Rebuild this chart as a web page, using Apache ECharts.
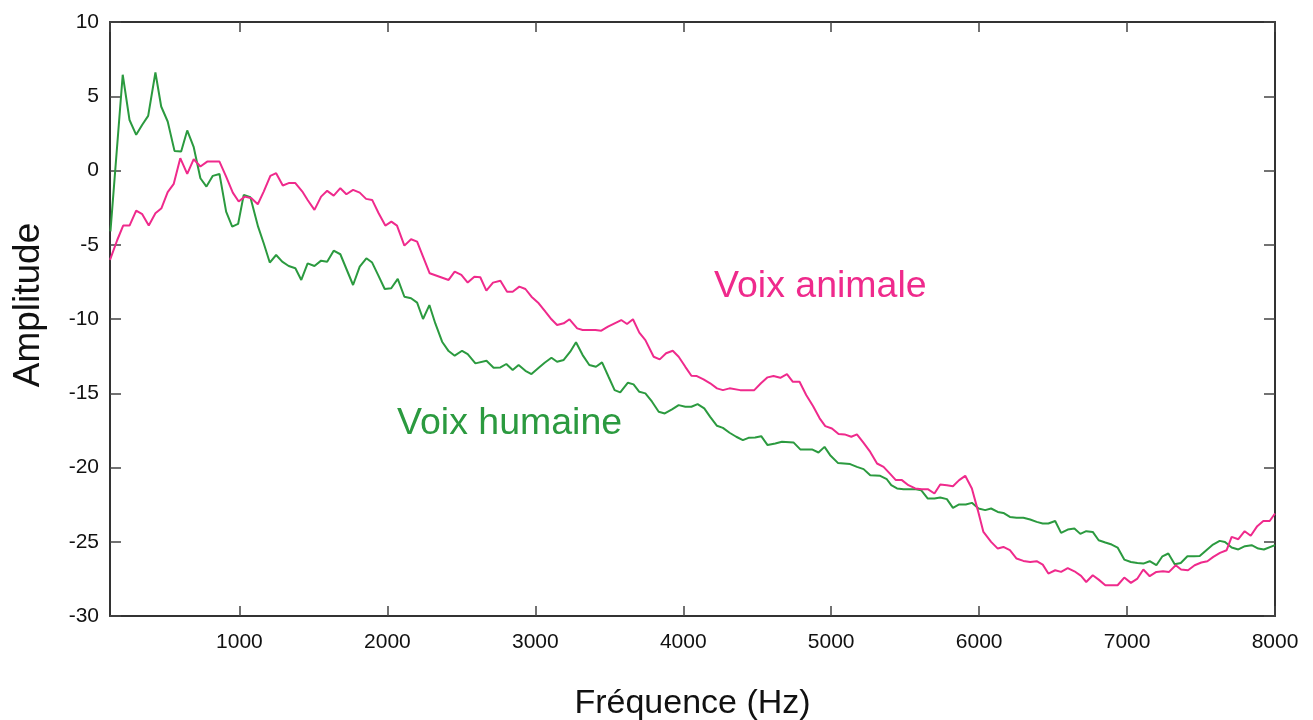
<!DOCTYPE html>
<html>
<head>
<meta charset="utf-8">
<script src="https://cdn.jsdelivr.net/npm/echarts@6/dist/echarts.min.js"></script>
<style>
html,body{margin:0;padding:0;background:#fff;}
#chart{width:1313px;height:720px;}
</style>
</head>
<body>
<div id="chart"></div>
<script>
// Voix humaine (green)
const humaineFreq = [128,211,257,302,343,383,432,471,515,561,606,647,691,736,777,820,865,910,951,991,1029,1074,1126,1164,1205,1248,1289,1333,1378,1418,1461,1507,1552,1593,1637,1682,1768,1813,1858,1897,1937,1982,2026,2070,2115,2160,2201,2241,2284,2324,2370,2414,2455,2505,2543,2595,2670,2718,2764,2804,2847,2887,2933,2974,3019,3063,3109,3147,3192,3236,3275,3320,3365,3410,3451,3495,3536,3574,3626,3664,3703,3744,3789,3834,3875,3924,3969,4014,4055,4097,4142,4182,4228,4268,4313,4358,4403,4441,4486,4527,4570,4622,4667,4745,4791,4870,4914,4955,4993,5045,5128,5174,5219,5264,5331,5376,5406,5445,5489,5534,5573,5608,5653,5698,5737,5782,5823,5865,5910,5951,5996,6041,6081,6126,6164,6208,6253,6299,6345,6389,6430,6468,6514,6554,6599,6644,6684,6724,6768,6808,6853,6896,6936,6981,7026,7070,7110,7153,7198,7239,7279,7322,7363,7408,7453,7491,7536,7581,7626,7662,7707,7752,7797,7842,7887,7925,8000];
const humaineAmp = [-4.1,6.45,3.4,2.4,3.08,3.68,6.6,4.31,3.3,1.32,1.28,2.7,1.57,-0.52,-1.08,-0.36,-0.23,-2.77,-3.78,-3.6,-1.64,-1.8,-3.78,-4.9,-6.2,-5.69,-6.14,-6.43,-6.58,-7.37,-6.25,-6.43,-6.07,-6.14,-5.4,-5.64,-7.71,-6.47,-5.91,-6.2,-7.03,-7.98,-7.93,-7.3,-8.5,-8.6,-8.9,-10.0,-9.06,-10.3,-11.53,-12.16,-12.47,-12.14,-12.36,-12.99,-12.81,-13.28,-13.26,-13.03,-13.44,-13.1,-13.49,-13.71,-13.32,-12.95,-12.61,-12.88,-12.76,-12.2,-11.57,-12.43,-13.1,-13.22,-12.92,-13.89,-14.79,-14.94,-14.29,-14.4,-14.9,-15.01,-15.57,-16.25,-16.36,-16.09,-15.8,-15.91,-15.91,-15.73,-16.02,-16.59,-17.19,-17.33,-17.66,-17.93,-18.16,-18.0,-17.98,-17.89,-18.49,-18.38,-18.27,-18.31,-18.78,-18.78,-18.99,-18.61,-19.17,-19.69,-19.77,-19.96,-20.11,-20.52,-20.56,-20.79,-21.19,-21.41,-21.46,-21.46,-21.46,-21.53,-22.09,-22.09,-22.02,-22.13,-22.72,-22.49,-22.49,-22.38,-22.76,-22.87,-22.76,-22.99,-23.06,-23.33,-23.39,-23.39,-23.5,-23.66,-23.77,-23.77,-23.6,-24.4,-24.18,-24.11,-24.47,-24.29,-24.34,-24.9,-25.05,-25.19,-25.39,-26.2,-26.36,-26.43,-26.47,-26.31,-26.58,-25.98,-25.79,-26.51,-26.43,-25.98,-25.98,-25.96,-25.57,-25.19,-24.94,-25.01,-25.39,-25.52,-25.3,-25.23,-25.46,-25.52,-25.23];

// Voix animale (pink)
const animaleFreq = [125,174,214,257,302,343,387,432,473,515,556,600,647,691,736,782,865,910,955,995,1036,1081,1124,1164,1209,1248,1293,1333,1378,1424,1462,1507,1552,1593,1637,1682,1723,1768,1813,1856,1897,1941,1986,2027,2065,2115,2160,2201,2241,2286,2414,2455,2500,2543,2588,2628,2669,2714,2764,2809,2847,2892,2933,2974,3023,3068,3109,3147,3192,3231,3283,3320,3361,3406,3446,3491,3536,3581,3620,3660,3703,3744,3800,3841,3884,3929,3969,4014,4055,4092,4137,4182,4228,4268,4313,4385,4480,4525,4570,4610,4656,4701,4741,4786,4831,4877,4922,4960,5005,5050,5091,5136,5174,5219,5264,5310,5354,5400,5437,5478,5522,5568,5613,5653,5698,5737,5782,5823,5865,5906,5951,5991,6029,6081,6126,6164,6208,6253,6299,6345,6389,6430,6468,6514,6554,6599,6644,6689,6724,6768,6808,6853,6936,6981,7026,7070,7110,7153,7198,7243,7284,7329,7365,7412,7457,7502,7543,7583,7628,7673,7707,7752,7795,7836,7880,7921,7964,8000];
const animaleAmp = [-6.02,-4.68,-3.71,-3.71,-2.7,-2.94,-3.71,-2.88,-2.54,-1.46,-0.9,0.83,-0.23,0.76,0.27,0.6,0.6,-0.41,-1.49,-2.09,-1.76,-1.87,-2.27,-1.42,-0.36,-0.18,-1.01,-0.85,-0.85,-1.4,-2.0,-2.65,-1.76,-1.37,-1.69,-1.19,-1.6,-1.3,-1.49,-1.91,-1.98,-2.88,-3.71,-3.44,-3.71,-5.06,-4.63,-4.79,-5.8,-6.92,-7.37,-6.81,-7.03,-7.55,-7.15,-7.19,-8.09,-7.55,-7.42,-8.16,-8.16,-7.82,-7.98,-8.5,-8.94,-9.51,-10.02,-10.4,-10.29,-10.02,-10.63,-10.74,-10.74,-10.74,-10.79,-10.52,-10.29,-10.07,-10.34,-10.02,-10.92,-11.42,-12.54,-12.72,-12.31,-12.14,-12.54,-13.22,-13.82,-13.84,-14.06,-14.33,-14.67,-14.79,-14.67,-14.79,-14.79,-14.33,-13.93,-13.84,-13.96,-13.71,-14.23,-14.23,-15.12,-15.86,-16.69,-17.21,-17.37,-17.75,-17.77,-17.93,-17.77,-18.34,-18.95,-19.73,-19.96,-20.45,-20.85,-20.85,-21.19,-21.41,-21.46,-21.46,-21.75,-21.14,-21.19,-21.26,-20.85,-20.56,-21.41,-22.87,-24.34,-25.01,-25.46,-25.35,-25.57,-26.13,-26.29,-26.36,-26.31,-26.54,-27.14,-26.92,-27.03,-26.77,-26.99,-27.3,-27.71,-27.26,-27.55,-27.93,-27.93,-27.41,-27.77,-27.48,-26.87,-27.32,-27.03,-26.99,-27.03,-26.58,-26.87,-26.92,-26.58,-26.4,-26.31,-26.02,-25.75,-25.57,-24.67,-24.83,-24.29,-24.6,-23.95,-23.6,-23.6,-23.1];

const xTicks = [1000,2000,3000,4000,5000,6000,7000,8000];
const yTicks = [-30,-25,-20,-15,-10,-5,0,5,10];
const labels = { animale: 'Voix animale', humaine: 'Voix humaine', xName: 'Fréquence (Hz)', yName: 'Amplitude' };

const PINK = '#ef2a8c';
const GREEN = '#2b9a3f';
const FONT = '"Liberation Sans", Arial, Helvetica, sans-serif';

function zip(a, b) { return a.map((v, i) => [v, b[i]]); }

const chart = echarts.init(document.getElementById('chart'), null, { renderer: 'canvas' });
const axisLineStyle = { color: '#333', width: 2 };
const tickStyle = { color: '#444', width: 1.5 };
const xFmt = v => (xTicks.indexOf(v) >= 0 ? String(v) : '');

chart.setOption({
  animation: false,
  backgroundColor: '#fff',
  grid: { left: 110, right: 38, top: 22, bottom: 104, containLabel: false, outerBoundsMode: 'none' },
  xAxis: [
    {
      type: 'value', min: 125, max: 8000, splitNumber: 8, position: 'bottom',
      name: labels.xName, nameLocation: 'middle', nameGap: 71,
      nameTextStyle: { fontFamily: FONT, fontSize: 34, color: '#111' },
      axisLine: { show: true, onZero: false, lineStyle: axisLineStyle },
      axisTick: { show: true, inside: true, length: 10, lineStyle: tickStyle },
      axisLabel: { fontFamily: FONT, fontSize: 21, color: '#111', margin: 16, formatter: xFmt, showMinLabel: false },
      splitLine: { show: false }
    },
    {
      type: 'value', min: 125, max: 8000, splitNumber: 8, position: 'top',
      axisLine: { show: true, onZero: false, lineStyle: axisLineStyle },
      axisTick: { show: true, inside: true, length: 10, lineStyle: tickStyle },
      axisLabel: { show: false },
      splitLine: { show: false }
    }
  ],
  yAxis: [
    {
      type: 'value', min: -30, max: 10, interval: 5, position: 'left',
      axisLine: { show: true, onZero: false, lineStyle: axisLineStyle },
      axisTick: { show: true, inside: true, length: 11, lineStyle: tickStyle },
      axisLabel: { fontFamily: FONT, fontSize: 21, color: '#111', margin: 11 },
      splitLine: { show: false }
    },
    {
      type: 'value', min: -30, max: 10, interval: 5, position: 'right',
      axisLine: { show: true, onZero: false, lineStyle: axisLineStyle },
      axisTick: { show: true, inside: true, length: 11, lineStyle: tickStyle },
      axisLabel: { show: false },
      splitLine: { show: false }
    }
  ],
  series: [
    {
      name: labels.humaine, type: 'line', xAxisIndex: 0, yAxisIndex: 0,
      data: zip(humaineFreq, humaineAmp), showSymbol: false, symbol: 'none',
      lineStyle: { color: GREEN, width: 2 }, z: 3
    },
    {
      name: labels.animale, type: 'line', xAxisIndex: 0, yAxisIndex: 0,
      data: zip(animaleFreq, animaleAmp), showSymbol: false, symbol: 'none',
      lineStyle: { color: PINK, width: 2 }, z: 4
    }
  ],
  graphic: [
    { type: 'text', left: 714, top: 268, style: { text: labels.animale, fill: PINK, font: '37.5px ' + FONT } },
    { type: 'text', left: 397, top: 405, style: { text: labels.humaine, fill: GREEN, font: '37.5px ' + FONT } },
    { type: 'text', x: 29, y: 305, rotation: Math.PI / 2,
      style: { text: labels.yName, fill: '#111', font: '37px ' + FONT, textAlign: 'center', textVerticalAlign: 'middle' } }
  ]
});
</script>
</body>
</html>
